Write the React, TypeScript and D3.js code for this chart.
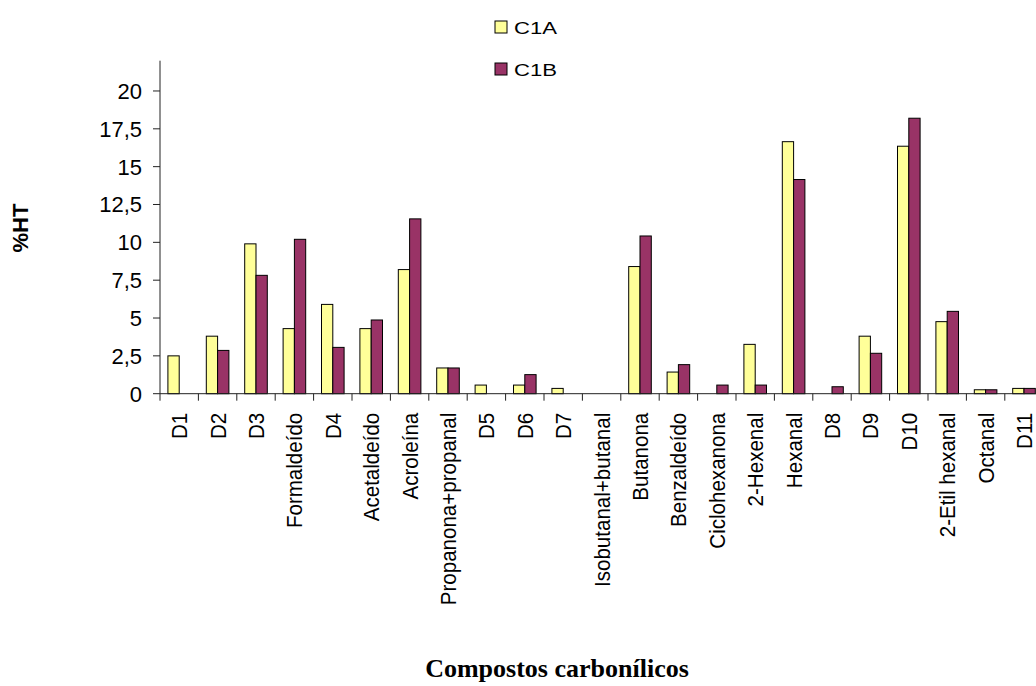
import React from "react";
import * as d3 from "d3";

const categories = [
  "D1", "D2", "D3", "Formaldeído", "D4", "Acetaldeído", "Acroleína",
  "Propanona+propanal", "D5", "D6", "D7", "Isobutanal+butanal", "Butanona",
  "Benzaldeído", "Ciclohexanona", "2-Hexenal", "Hexanal", "D8", "D9", "D10",
  "2-Etil hexanal", "Octanal", "D11",
];
const seriesNames = ["C1A", "C1B"];
const c1a = [2.5, 3.8, 9.9, 4.3, 5.9, 4.3, 8.2, 1.7, 0.57, 0.57, 0.35, 0, 8.4, 1.43, 0, 3.26, 16.65, 0, 3.8, 16.35, 4.76, 0.26, 0.35];
const c1b = [0, 2.86, 7.82, 10.2, 3.06, 4.87, 11.55, 1.7, 0, 1.26, 0, 0, 10.42, 1.92, 0.57, 0.57, 14.15, 0.46, 2.67, 18.2, 5.44, 0.26, 0.35];
const yTicks = [0, 2.5, 5, 7.5, 10, 12.5, 15, 17.5, 20];
const colors = ["#FFFF99", "#993366"];

const W = 1036;
const H = 686;
const left = 160;
const step = 38.4;
const zeroY = 393.7;
const topY = 60.7;

export default function App() {
  const x0 = d3
    .scaleBand<string>()
    .domain(categories)
    .range([left, left + step * categories.length])
    .paddingInner(0)
    .paddingOuter(0);
  const x1 = d3
    .scaleBand<string>()
    .domain(seriesNames)
    .range([0, x0.bandwidth()])
    .paddingInner(0)
    .paddingOuter(0.7);
  const y = d3.scaleLinear().domain([0, 22]).range([zeroY, topY]);
  const fmt = (v: number) => String(v).replace(".", ",");
  const data = [c1a, c1b];
  const font = "'Liberation Sans', Arial, sans-serif";
  const axisColor = "#222";

  return (
    <svg
      width={W}
      height={H}
      style={{ position: "absolute", left: 0, top: 0, display: "block", background: "#fff" }}
      fontFamily={font}
    >
      {/* bars */}
      {categories.map((c, i) => (
        <g key={c} transform={`translate(${x0(c)},0)`}>
          {seriesNames.map((s, j) => {
            const v = data[j][i];
            if (v <= 0) return null;
            return (
              <rect
                key={s}
                x={x1(s)!}
                y={y(v)}
                width={x1.bandwidth()}
                height={zeroY - y(v)}
                fill={colors[j]}
                stroke="#000"
                strokeWidth={1}
              />
            );
          })}
        </g>
      ))}
      {/* y axis */}
      <line x1={left} x2={left} y1={y(22)} y2={zeroY} stroke={axisColor} strokeWidth={1} />
      {yTicks.map((t) => (
        <g key={t}>
          <line x1={left - 7} x2={left} y1={y(t)} y2={y(t)} stroke={axisColor} strokeWidth={1} />
          <text x={left - 18} y={y(t)} dy="0.36em" textAnchor="end" fontSize={22} fill="#000">
            {fmt(t)}
          </text>
        </g>
      ))}
      {/* x axis */}
      <line x1={left} x2={left + step * categories.length} y1={zeroY} y2={zeroY} stroke={axisColor} strokeWidth={1} />
      {categories.map((c) => (
        <line
          key={"t" + c}
          x1={x0(c)!}
          x2={x0(c)!}
          y1={zeroY}
          y2={zeroY + 7}
          stroke={axisColor}
          strokeWidth={1}
        />
      ))}
      {categories.map((c) => {
        const cx = x0(c)! + x0.bandwidth() / 2;
        const ty = zeroY + 19;
        return (
          <text
            key={"l" + c}
            transform={`translate(${cx},${ty}) rotate(-90) scale(0.935,1)`}
            textAnchor="end"
            dy="0.36em"
            fontSize={22}
            fill="#000"
          >
            {c}
          </text>
        );
      })}
      {/* y title */}
      <text
        transform={`translate(20.5,228) rotate(-90)`}
        textAnchor="middle"
        dy="0.36em"
        fontSize={22}
        fontWeight="bold"
        fill="#000"
      >
        %HT
      </text>
      {/* x title */}
      <text
        x={557}
        y={677}
        textAnchor="middle"
        fontFamily="'Liberation Serif', 'Times New Roman', serif"
        fontWeight="bold"
        fontSize={26}
        fill="#000"
      >
        Compostos carbonílicos
      </text>
      {/* legend */}
      {seriesNames.map((s, j) => (
        <g key={"lg" + s}>
          <rect x={495} y={21 + j * 42} width={12} height={12} fill={colors[j]} stroke="#000" strokeWidth={1} />
          <text
            x={514}
            y={34 + j * 41.5}
            fontSize={17}
            textLength={43}
            lengthAdjust="spacingAndGlyphs"
            fill="#000"
          >
            {s}
          </text>
        </g>
      ))}
    </svg>
  );
}
